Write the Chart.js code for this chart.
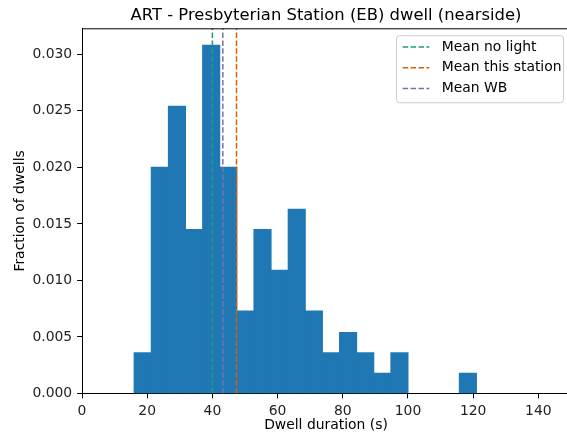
<!DOCTYPE html>
<html lang="en">
<head>
<meta charset="UTF-8">
<title>ART - Presbyterian Station (EB) dwell</title>
<style>
    html, body {
        margin: 0;
        padding: 0;
        background: #fff;
        overflow: hidden;
    }
    canvas { display: block; }
</style>
</head>
<body>
<!-- canvas is a bit wider than the window: the right spine sits just off-picture, as in the source -->
<canvas id="dwellChart" width="571" height="436"></canvas>

<script src="https://cdn.jsdelivr.net/npm/chart.js"></script>
<script>
    // histogram bins (centre of each bin, seconds) and fraction of dwells
    const binCentres = [18.625, 23.875, 29.125, 34.375, 39.625, 44.875, 50.125, 55.375, 60.625, 65.875,
                        71.125, 76.375, 81.625, 86.875, 92.125, 97.375, 102.625, 107.875, 113.125, 118.375];
    const fractions = [0.0036, 0.0200, 0.0254, 0.0145, 0.0308, 0.0200, 0.0073, 0.0145, 0.0109, 0.0163,
                       0.0073, 0.0036, 0.0054, 0.0036, 0.0018, 0.0036, 0, 0, 0, 0.0018];

    // mean dwell lines
    const meanLabels = ['Mean no light', 'Mean this station', 'Mean WB'];
    const meanValues = [40.0, 47.4, 43.2];
    const meanColors = ['#1b9e77', '#d95f02', '#7570b3'];

    const xTicks = [0, 20, 40, 60, 80, 100, 120, 140];
    const yTicks = [0, 0.005, 0.010, 0.015, 0.020, 0.025, 0.030];
    const xMax = 149.7;
    const yMax = 0.0323;

    const FONT = 'DejaVu Sans';

    // bars first in data, but drawn underneath the dashed lines
    const datasets = [{
        type: 'bar',
        label: 'dwells',
        data: binCentres.map((x, i) => ({ x: x, y: fractions[i] })),
        backgroundColor: '#1f77b4',
        borderWidth: 0,
        barPercentage: 1,
        categoryPercentage: 1,
        // close the hairline seams between neighbouring bins, skip empty bins
        inflateAmount: c => (c.raw && c.raw.y > 0 ? 0.5 : 0),
        order: 1
    }];
    meanValues.forEach((m, i) => {
        datasets.push({
            type: 'line',
            label: meanLabels[i],
            data: [{ x: m, y: 0 }, { x: m, y: yMax }],
            borderColor: meanColors[i],
            borderWidth: 1.5,
            borderDash: [5.5, 2.4],
            pointRadius: 0,
            fill: false,
            order: 0
        });
    });

    // title, top/right spines and the boxed legend, drawn like matplotlib does
    const extras = {
        id: 'extras',
        afterDraw(chart) {
            const ctx = chart.ctx;
            const a = chart.chartArea;
            ctx.save();

            ctx.strokeStyle = '#000';
            ctx.lineWidth = 1;
            ctx.beginPath();
            ctx.moveTo(a.left, a.top + 0.5);
            ctx.lineTo(a.right, a.top + 0.5);
            ctx.lineTo(a.right, a.bottom);
            ctx.stroke();

            ctx.fillStyle = '#000';
            ctx.font = '16.4px "' + FONT + '"';
            ctx.textAlign = 'center';
            ctx.textBaseline = 'alphabetic';
            ctx.fillText('ART - Presbyterian Station (EB) dwell (nearside)', (a.left + a.right) / 2, 20);

            // legend box
            const bw = 167, bh = 67;
            const bx = a.right - 7 - bw;
            const by = a.top + 7;
            ctx.beginPath();
            ctx.roundRect(bx + 0.5, by + 0.5, bw, bh, 3);
            ctx.fillStyle = 'rgba(255,255,255,0.8)';
            ctx.fill();
            ctx.strokeStyle = '#cccccc';
            ctx.stroke();

            ctx.font = '13.9px "' + FONT + '"';
            ctx.textAlign = 'left';
            ctx.textBaseline = 'middle';
            meanLabels.forEach((lab, i) => {
                const y = by + 11.7 + i * 20.8;
                ctx.beginPath();
                ctx.setLineDash([5.5, 2.4]);
                ctx.lineWidth = 1.5;
                ctx.strokeStyle = meanColors[i];
                ctx.moveTo(bx + 6.7, y);
                ctx.lineTo(bx + 33.3, y);
                ctx.stroke();
                ctx.setLineDash([]);
                ctx.fillStyle = '#000';
                ctx.fillText(lab, bx + 45.7, y);
            });
            ctx.restore();
        }
    };

    const ctx = document.getElementById('dwellChart').getContext('2d');
    const dwellChart = new Chart(ctx, {
        type: 'bar',
        data: { datasets: datasets },
        options: {
            responsive: false,
            animation: false,
            devicePixelRatio: 1,
            layout: { padding: { top: 28.3, right: 1, left: 0, bottom: 0 } },
            plugins: {
                legend: { display: false },
                title: { display: false },
                tooltip: { enabled: false }
            },
            scales: {
                x: {
                    type: 'linear',
                    min: 0,
                    max: xMax,
                    offset: false,
                    grid: { offset: false, drawOnChartArea: false, drawTicks: true, tickLength: 4.9, color: '#000' },
                    border: { display: true, color: '#000', width: 1 },
                    afterBuildTicks: s => { s.ticks = xTicks.map(v => ({ value: v })); },
                    afterFit: s => { s.height = 42.5; },
                    ticks: {
                        padding: 4.9,
                        maxRotation: 0,
                        color: '#222',
                        font: { family: FONT, size: 13.9 }
                    },
                    title: {
                        display: true,
                        text: 'Dwell duration (s)',
                        color: '#000',
                        padding: { top: 0, bottom: 2.7 },
                        font: { family: FONT, size: 13.9 }
                    }
                },
                y: {
                    min: 0,
                    max: yMax,
                    grid: { drawOnChartArea: false, drawTicks: true, tickLength: 4.9, color: '#000' },
                    border: { display: true, color: '#000', width: 1 },
                    afterBuildTicks: s => { s.ticks = yTicks.map(v => ({ value: v })); },
                    afterFit: s => { s.width = 82; },
                    ticks: {
                        padding: 4.9,
                        color: '#222',
                        font: { family: FONT, size: 13.9 },
                        callback: v => v.toFixed(3)
                    },
                    title: {
                        display: true,
                        text: 'Fraction of dwells',
                        color: '#000',
                        padding: { top: 11.7, bottom: 0 },
                        font: { family: FONT, size: 13.9 }
                    }
                }
            }
        },
        plugins: [extras]
    });
</script>
</body>
</html>
